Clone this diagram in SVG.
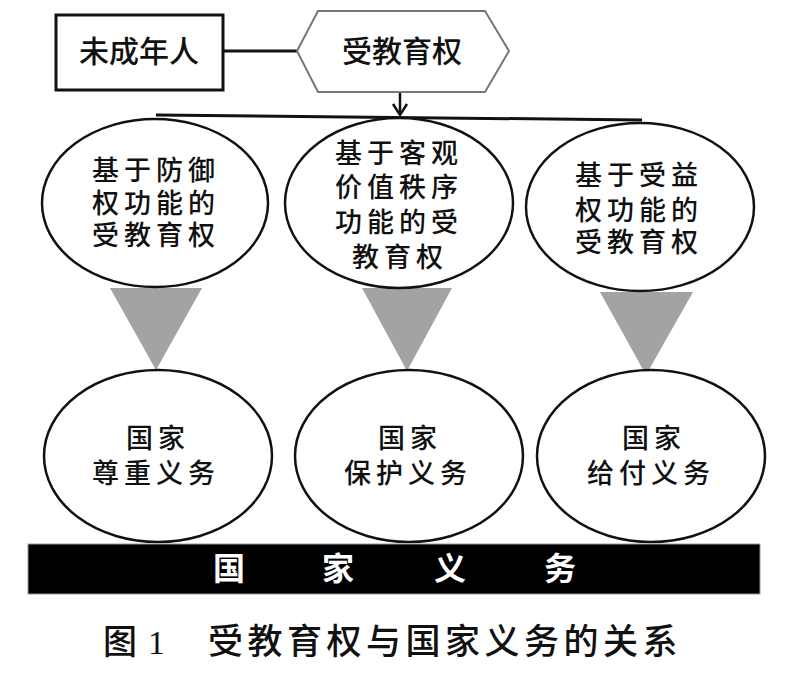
<svg xmlns="http://www.w3.org/2000/svg" width="800" height="696" viewBox="0 0 800 696">
<defs>
<style>
.t{font-family:"Noto Sans CJK SC","Noto Sans",sans-serif;font-size:27px;font-weight:500;letter-spacing:5px;fill:#111}
.big{font-family:"Noto Sans CJK SC","Noto Sans",sans-serif;font-size:30px;font-weight:500;fill:#111}
.el{fill:#fff;stroke:#111;stroke-width:2.5}
.tri{fill:#a3a3a3}
.ln{stroke:#111;stroke-width:3;fill:none}
</style>
</defs>
<rect width="800" height="696" fill="#fff"/>

<g id="connectors">
<line class="ln" x1="223" y1="51" x2="297" y2="51"/>
<line x1="400" y1="92" x2="400" y2="115" stroke="#111" stroke-width="2.5"/>
<path d="M393,104 L400,115 L407,104" fill="none" stroke="#111" stroke-width="2.5"/>
<line class="ln" x1="156" y1="115" x2="642" y2="120"/>
<polygon class="tri" points="110,288 202,288 156,370"/>
<polygon class="tri" points="362,288 452,288 407,371"/>
<polygon class="tri" points="600,292 693,292 646,375"/>
</g>

<g id="minor">
<rect x="56" y="15" width="167" height="75" fill="#fff" stroke="#111" stroke-width="3"/>
<text class="big" x="139" y="62" text-anchor="middle">未成年人</text>
</g>

<g id="right">
<polygon points="297,51 318,11 485,11 509,51 485,92 318,92" fill="#fff" stroke="#777" stroke-width="2"/>
<text class="big" x="402" y="62" text-anchor="middle">受教育权</text>
</g>

<g id="func1">
<ellipse class="el" cx="155" cy="203" rx="113" ry="84"/>
<text class="t"><tspan x="92" y="180">基于防御</tspan><tspan x="92" y="213">权功能的</tspan><tspan x="92" y="245">受教育权</tspan></text>
</g>

<g id="func2">
<ellipse class="el" cx="399" cy="203" rx="114" ry="85"/>
<text class="t"><tspan x="335" y="163">基于客观</tspan><tspan x="335" y="197">价值秩序</tspan><tspan x="335" y="232">功能的受</tspan><tspan x="352" y="267">教育权</tspan></text>
</g>

<g id="func3">
<ellipse class="el" cx="640" cy="207" rx="114" ry="84"/>
<text class="t"><tspan x="575" y="185">基于受益</tspan><tspan x="575" y="220">权功能的</tspan><tspan x="575" y="252">受教育权</tspan></text>
</g>

<g id="duty1">
<ellipse class="el" cx="158" cy="456" rx="114" ry="86"/>
<text class="t"><tspan x="126" y="448">国家</tspan><tspan x="92" y="483">尊重义务</tspan></text>
</g>

<g id="duty2">
<ellipse class="el" cx="409" cy="456" rx="114" ry="86"/>
<text class="t"><tspan x="378" y="448">国家</tspan><tspan x="344" y="483">保护义务</tspan></text>
</g>

<g id="duty3">
<ellipse class="el" cx="651" cy="456" rx="114" ry="86"/>
<text class="t"><tspan x="622" y="448">国家</tspan><tspan x="587" y="483">给付义务</tspan></text>
</g>

<g id="bar">
<rect x="28" y="544" width="732" height="50" fill="#000" stroke="#999" stroke-width="1"/>
<text x="229 338 450 560" y="580" text-anchor="middle" font-family="Noto Sans CJK SC, sans-serif" font-size="32" font-weight="bold" fill="#fff">国家义务</text>
</g>

<g id="caption">
<text x="103" y="654" font-family="Noto Sans CJK SC, sans-serif" font-size="34" font-weight="500" fill="#111">图</text>
<text x="148" y="654" font-family="Liberation Serif, serif" font-size="34" fill="#111">1</text>
<text x="208" y="654" font-family="Noto Sans CJK SC, sans-serif" font-size="35" font-weight="500" letter-spacing="4.5" fill="#111">受教育权与国家义务的关系</text>
</g>
</svg>
